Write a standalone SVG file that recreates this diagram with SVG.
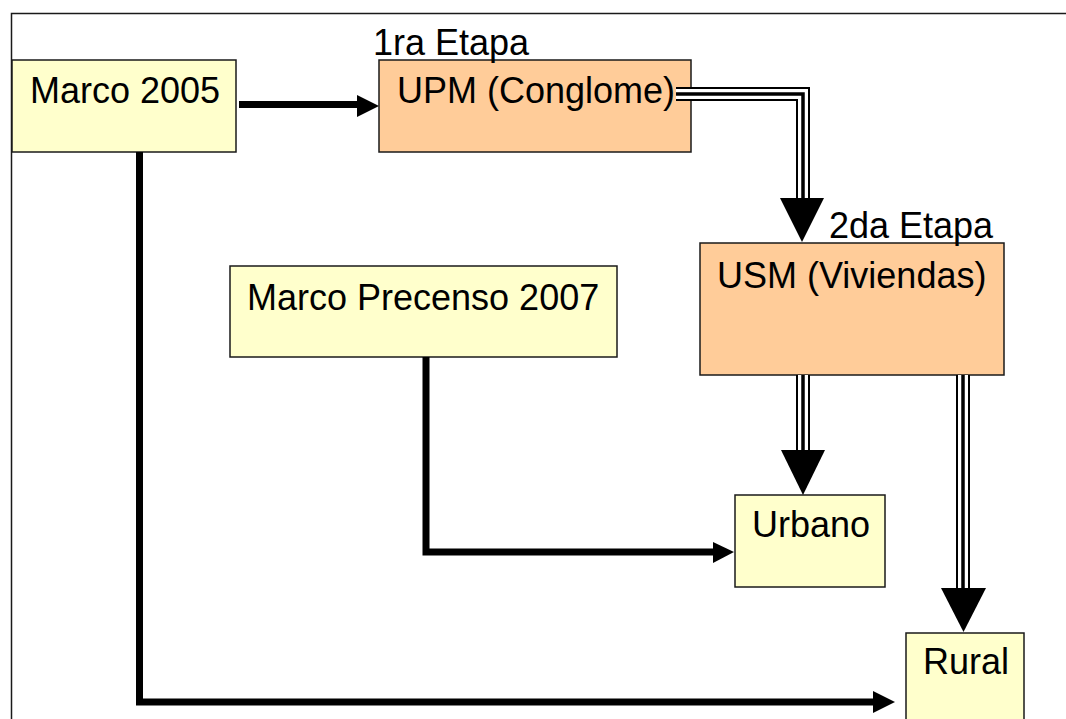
<svg xmlns="http://www.w3.org/2000/svg" width="1066" height="719" viewBox="0 0 1066 719">
<style>
.y{fill:#FFFFCC;stroke:#1a1a1a;stroke-width:1.5}
.o{fill:#FFCC99;stroke:#1a1a1a;stroke-width:1.5}
text{font-family:"Liberation Sans",Arial,sans-serif;font-size:36px;fill:#000}
.th{fill:none;stroke:#000;stroke-width:7}
.t1{fill:none;stroke:#000;stroke-width:14}
.t2{fill:none;stroke:#fff;stroke-width:10}
.t3{fill:none;stroke:#000;stroke-width:3.5}
.ah{fill:#000}
</style>
<rect width="1066" height="719" fill="#fff"/>
<path d="M11.5,719 V13.5 H1066" fill="none" stroke="#1a1a1a" stroke-width="1.5"/>
<g id="marco2005"><rect class="y" x="12" y="60" width="224" height="92"/><text x="30" y="103">Marco 2005</text></g>
<g id="upm"><rect class="o" x="379" y="60" width="312" height="92"/><text x="397" y="103">UPM (Conglome)</text></g>
<text x="373" y="55">1ra Etapa</text>
<g id="usm"><rect class="o" x="700" y="243" width="304" height="132"/><text x="717" y="288">USM (Viviendas)</text></g>
<text x="829" y="238">2da Etapa</text>
<g id="precenso"><rect class="y" x="230" y="266" width="387" height="91"/><text x="247" y="310">Marco Precenso 2007</text></g>
<g id="urbano"><rect class="y" x="735" y="495" width="150" height="92"/><text x="752" y="537">Urbano</text></g>
<g id="rural"><rect class="y" x="906" y="633" width="118" height="90"/><text x="923" y="674">Rural</text></g>
<g id="connectors">
<path class="th" d="M239,104.5 H360"/>
<polygon class="ah" points="357,95 379,106 357,117"/>
<path class="th" d="M139.5,152 V702 H876"/>
<polygon class="ah" points="873,691 895,702 873,713"/>
<path class="th" d="M426,357 V552 H716"/>
<polygon class="ah" points="713,542 734,552 713,563"/>
<path class="t1" d="M676,94 H803 V200"/>
<path class="t2" d="M676,94 H803 V200"/>
<path class="t3" d="M676,94 H803 V200"/>
<polygon class="ah" points="780,198 824,198 802,242"/>
<path class="t1" d="M803,375 V452"/>
<path class="t2" d="M803,375 V452"/>
<path class="t3" d="M803,375 V452"/>
<polygon class="ah" points="781,450 825,450 803,495"/>
<path class="t1" d="M963,375 V590"/>
<path class="t2" d="M963,375 V590"/>
<path class="t3" d="M963,375 V590"/>
<polygon class="ah" points="941,588 986,588 963.5,632"/>
</g>
</svg>
